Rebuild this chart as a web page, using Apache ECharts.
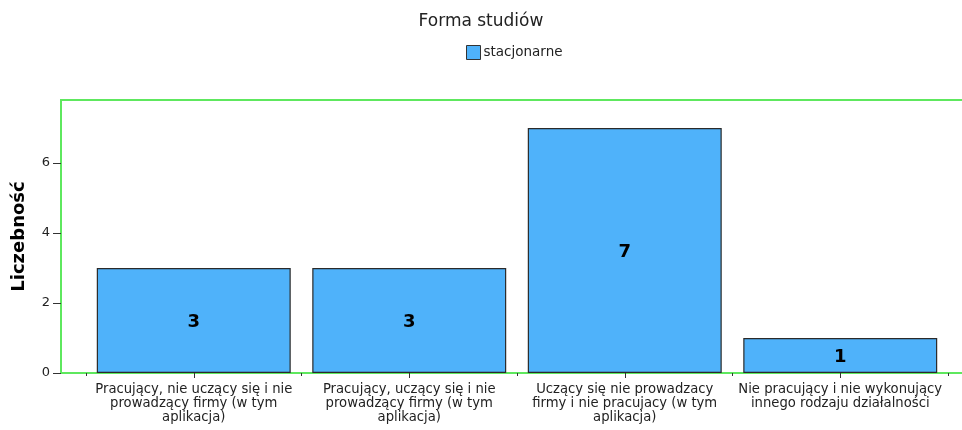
<!DOCTYPE html>
<html><head><meta charset="utf-8">
<script src="https://cdn.jsdelivr.net/npm/echarts@6/dist/echarts.min.js"></script>
<style>html,body{margin:0;padding:0;background:#fff}#c{width:962px;height:430px}</style>
</head><body><div id="c"></div>
<script>
const categories = [
  "Pracujący, nie uczący się i nie\nprowadzący firmy (w tym\naplikacja)",
  "Pracujący, uczący się i nie\nprowadzący firmy (w tym\naplikacja)",
  "Uczący się nie prowadzacy\nfirmy i nie pracujacy (w tym\naplikacja)",
  "Nie pracujący i nie wykonujący\ninnego rodzaju działalności"
];
const seriesName = "stacjonarne";
const values = [3, 3, 7, 1];
const yTicks = [0, 2, 4, 6];

const FONT = "'DejaVu Sans', sans-serif";
const chart = echarts.init(document.getElementById('c'));
chart.setOption({
  animation: false,
  title: { text: "Forma studiów", left: 'center', top: 8,
    textStyle: { fontFamily: FONT, fontSize: 17, fontWeight: 'normal', color: '#222' } },
  legend: { top: 40, left: 461, itemWidth: 14, itemHeight: 14, itemGap: 4,
    icon: 'rect',
    itemStyle: { borderColor: '#333', borderWidth: 1 },
    textStyle: { fontFamily: FONT, fontSize: 13.5, color: '#222', padding: [0, 0, 0, -2] },
    data: [seriesName] },
  grid: [
    { left: 61, width: 960, top: 100, bottom: 57, show: true, outerBoundsMode: 'none',
      borderColor: '#5ee85e', borderWidth: 2, backgroundColor: 'transparent' },
    { left: 86, right: 14, top: 100, bottom: 57, outerBoundsMode: 'none' }
  ],
  xAxis: [
    { type: 'value', gridIndex: 0, show: false },
    { type: 'category', gridIndex: 1, data: categories,
      axisLine: { show: false },
      axisTick: { show: true, alignWithLabel: true, length: 5, lineStyle: { color: '#333' } },
      axisLabel: { fontFamily: FONT, fontSize: 13.2, color: '#222', lineHeight: 14, margin: 10, interval: 0 } },
    { type: 'category', gridIndex: 1, data: categories, position: 'bottom',
      axisLine: { show: false },
      axisTick: { show: true, length: 3, lineStyle: { color: '#333' } },
      axisLabel: { show: false } }
  ],
  yAxis: [
    { type: 'value', gridIndex: 0, min: 0, max: 7.8, interval: 2,
      name: 'Liczebność', nameLocation: 'middle', nameGap: 33, nameRotate: 90,
      nameTextStyle: { fontFamily: FONT, fontSize: 18, fontWeight: 'bold', color: '#000' },
      axisLine: { show: false },
      axisTick: { show: true, length: 8, lineStyle: { color: '#333' } },
      splitLine: { show: false },
      axisLabel: { fontFamily: FONT, fontSize: 13, color: '#222', margin: 11,
        showMaxLabel: false,
        formatter: v => yTicks.includes(v) ? String(v) : '' } },
    { type: 'value', gridIndex: 1, min: 0, max: 7.8, show: false }
  ],
  series: [{
    name: seriesName, type: 'bar', xAxisIndex: 1, yAxisIndex: 1,
    data: values, barCategoryGap: '10%',
    itemStyle: { color: '#4fb2fa', borderColor: '#2a2a2a', borderWidth: 1.2 },
    label: { show: true, position: 'inside', fontFamily: FONT, fontSize: 18, fontWeight: 'bold', color: '#000', offset: [0, 2] }
  }]
});
</script></body></html>
